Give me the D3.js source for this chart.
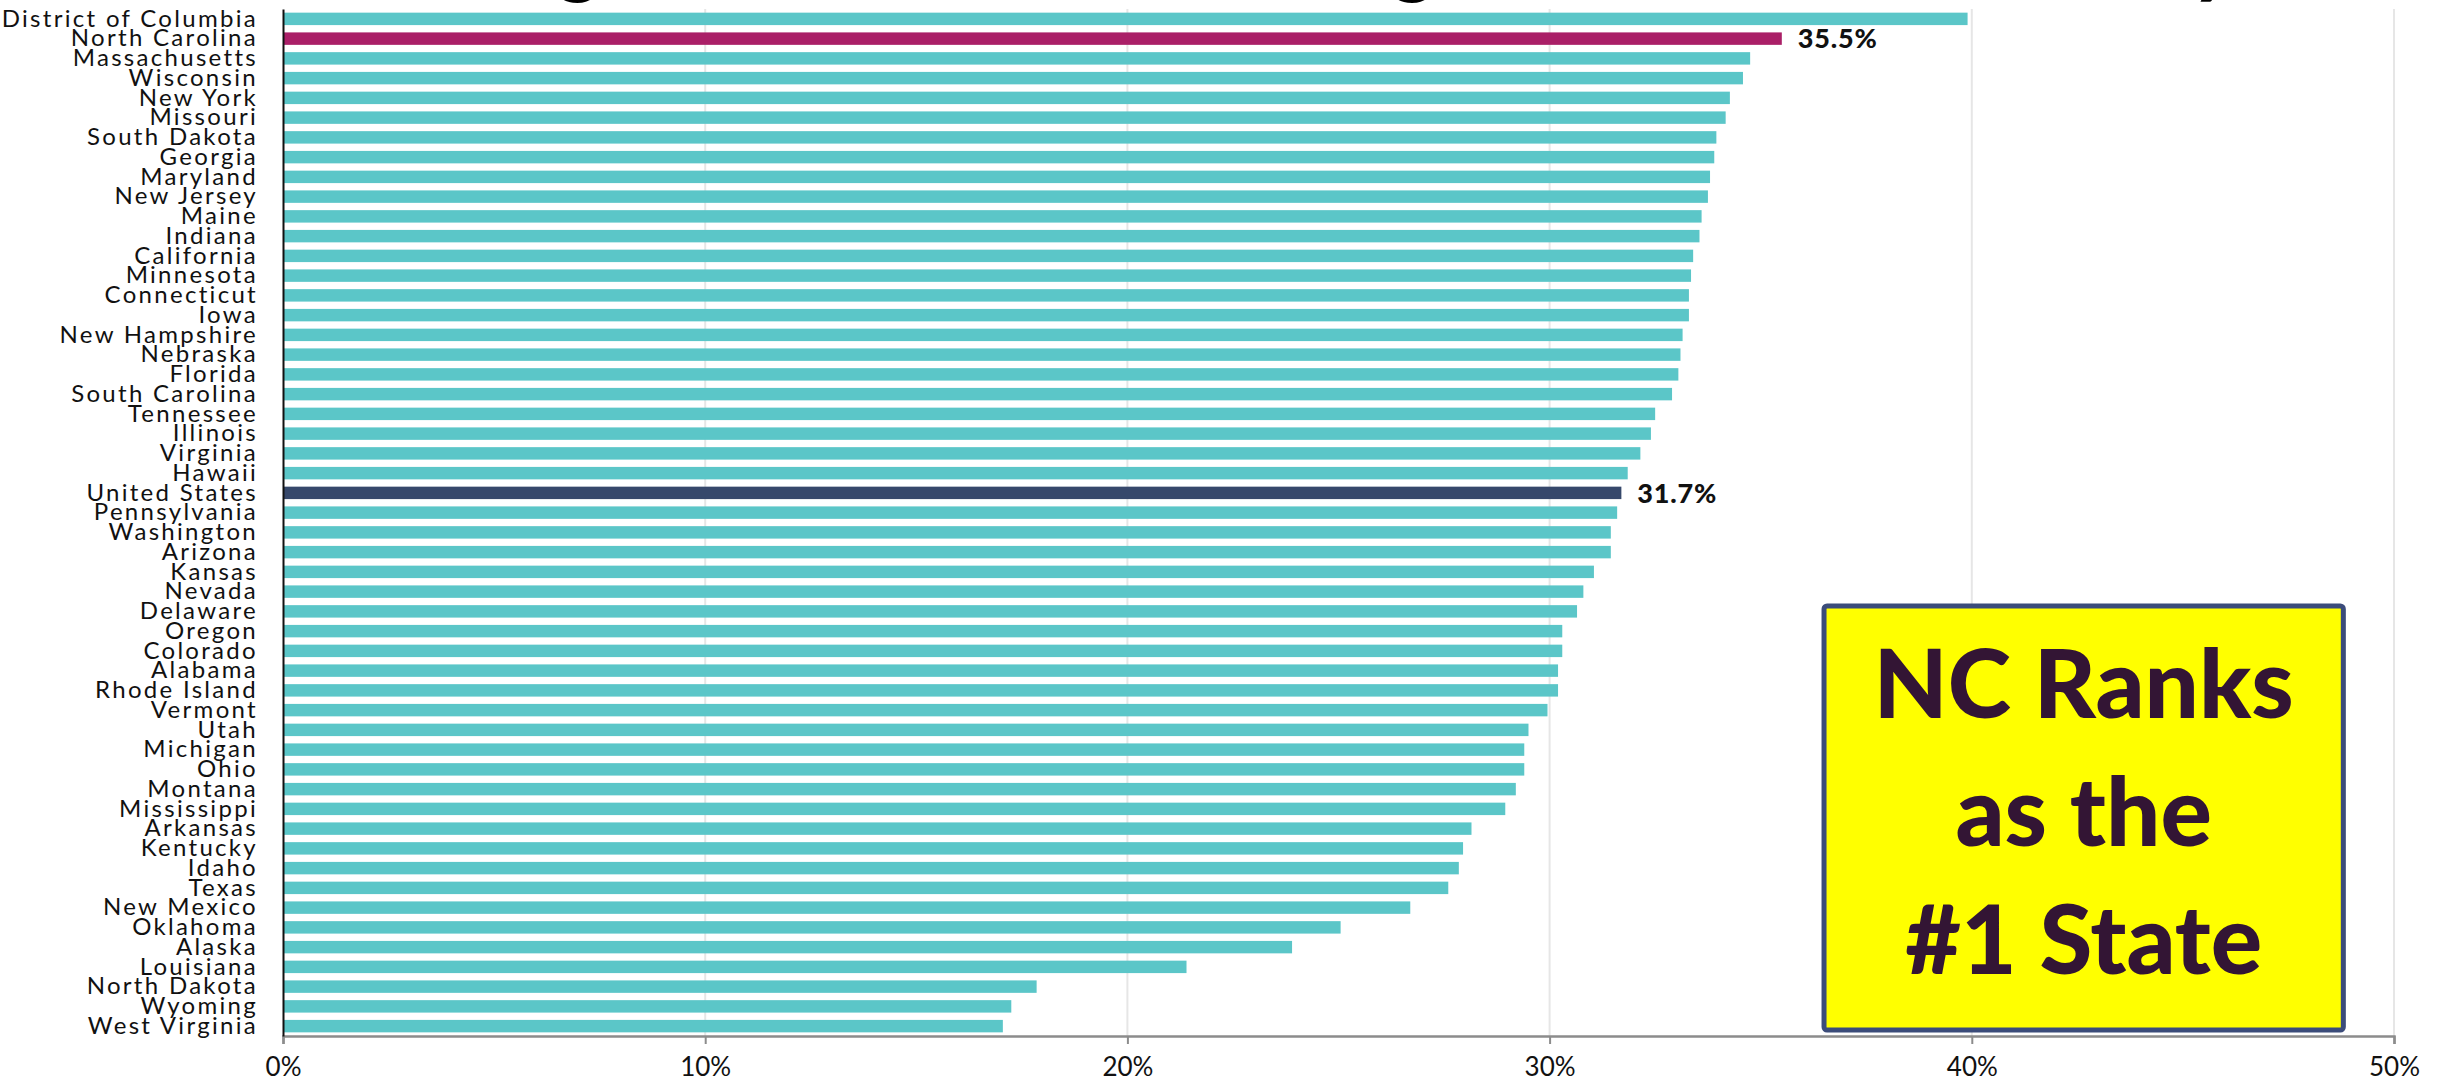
<!DOCTYPE html>
<html>
<head>
<meta charset="utf-8">
<script src="https://cdn.jsdelivr.net/npm/d3@7"></script>
<style>
  html, body { margin: 0; padding: 0; background: #fff; }
  svg { display: block; }
</style>
</head>
<body>
<svg id="chart" width="2453" height="1086"></svg>
<script>
// Rows, top to bottom
const states = [
  "District of Columbia", "North Carolina", "Massachusetts", "Wisconsin", "New York",
  "Missouri", "South Dakota", "Georgia", "Maryland", "New Jersey", "Maine", "Indiana",
  "California", "Minnesota", "Connecticut", "Iowa", "New Hampshire", "Nebraska",
  "Florida", "South Carolina", "Tennessee", "Illinois", "Virginia", "Hawaii",
  "United States", "Pennsylvania", "Washington", "Arizona", "Kansas", "Nevada",
  "Delaware", "Oregon", "Colorado", "Alabama", "Rhode Island", "Vermont", "Utah",
  "Michigan", "Ohio", "Montana", "Mississippi", "Arkansas", "Kentucky", "Idaho",
  "Texas", "New Mexico", "Oklahoma", "Alaska", "Louisiana", "North Dakota",
  "Wyoming", "West Virginia"
];

// Share (%) for each row, same order as states
const values = [
  39.9, 35.5, 34.75, 34.58, 34.27,
  34.17, 33.95, 33.9, 33.8, 33.75, 33.6, 33.55,
  33.4, 33.35, 33.3, 33.3, 33.15, 33.1,
  33.05, 32.9, 32.5, 32.4, 32.15, 31.85,
  31.7, 31.6, 31.45, 31.45, 31.05, 30.8,
  30.65, 30.3, 30.3, 30.2, 30.2, 29.95, 29.5,
  29.4, 29.4, 29.2, 28.95, 28.15, 27.95, 27.85,
  27.6, 26.7, 25.05, 23.9, 21.4, 17.85,
  17.25, 17.05
];

// Rows that carry a value label
const labelled = ["North Carolina", "United States"];

// Axis ticks (%)
const ticks = [0, 10, 20, 30, 40, 50];

// Call-out box lines
const calloutLines = ["NC Ranks", "as the", "#1 State"];

// Heading, split into runs
const headingParts = ["Percentage of Adults with a ", "Degree in the Tech ", "Industry"];

const data = states.map((s, i) => ({ state: s, value: values[i] }));

const W = 2453, H = 1086;
const margin = { top: 9, right: 59, bottom: 50, left: 283 };

const svg = d3.select("#chart");

const x = d3.scaleLinear().domain([0, 50]).range([margin.left, W - margin.right]);
const y = d3.scaleBand().domain(states).range([margin.top, H - margin.bottom])
  .paddingInner(0.37).paddingOuter(0.185);

const colorFor = s => s === "North Carolina" ? "#AA1F67" : s === "United States" ? "#36486B" : "#5BC6C8";

// Heading sits mostly above the top edge; only descenders reach into view
const heading = svg.append("text")
  .attr("y", -12)
  .attr("font-family", "Lato, sans-serif")
  .attr("font-weight", 900)
  .attr("font-size", 80)
  .attr("fill", "#000");
const runs = headingParts.map(p => heading.append("tspan").text(p));
// descender glyph in each run and the x where its centre goes
const anchors = [{ ch: "g", at: 578 }, { ch: "g", at: 1413 }, { ch: "y", at: 2213 }];
const node = heading.node();
let offset = 0;
runs.forEach((r, i) => {
  const idx = offset + headingParts[i].indexOf(anchors[i].ch);
  const ext = node.getExtentOfChar(idx);
  const shift = anchors[i].at - (ext.x + ext.width / 2);
  if (i === 0) r.attr("x", shift);
  else r.attr("dx", shift);
  offset += headingParts[i].length;
});

// Vertical gridlines
svg.append("g")
  .selectAll("line")
  .data(ticks.filter(t => t > 0))
  .join("line")
  .attr("x1", d => x(d)).attr("x2", d => x(d))
  .attr("y1", margin.top).attr("y2", H - margin.bottom)
  .attr("stroke", "#E6E6E6").attr("stroke-width", 2);

// Bars
svg.append("g")
  .selectAll("rect")
  .data(data)
  .join("rect")
  .attr("x", x(0))
  .attr("y", d => y(d.state))
  .attr("width", d => x(d.value) - x(0))
  .attr("height", y.bandwidth())
  .attr("fill", d => colorFor(d.state));

// Value labels
svg.append("g")
  .selectAll("text")
  .data(data.filter(d => labelled.includes(d.state)))
  .join("text")
  .attr("x", d => x(d.value) + 16)
  .attr("y", d => y(d.state) + y.bandwidth() / 2)
  .attr("dy", "0.36em")
  .attr("font-family", "Lato, sans-serif")
  .attr("font-weight", 900)
  .attr("font-size", 27)
  .attr("letter-spacing", 0.8)
  .attr("fill", "#111")
  .text(d => d.value.toFixed(1) + "%");

// Bottom axis
const xAxis = d3.axisBottom(x)
  .tickValues(ticks)
  .tickFormat(d => d + "%")
  .tickSize(8)
  .tickPadding(14);
const gx = svg.append("g")
  .attr("transform", `translate(0,${H - margin.bottom})`)
  .call(xAxis);
gx.select(".domain").attr("stroke", "#8C8C8C").attr("stroke-width", 2.5);
gx.selectAll(".tick line").attr("stroke", "#8C8C8C").attr("stroke-width", 2);
gx.selectAll(".tick text")
  .attr("font-family", "Lato, sans-serif")
  .attr("font-size", 26)
  .attr("fill", "#111");

// Left axis with state names
const yAxis = d3.axisLeft(y).tickSize(0).tickPadding(25);
const gy = svg.append("g")
  .attr("transform", `translate(${margin.left},0)`)
  .call(yAxis);
gy.select(".domain").attr("stroke", "#111").attr("stroke-width", 2);
gy.selectAll(".tick text")
  .attr("font-family", "Lato, sans-serif")
  .attr("font-size", 24)
  .attr("letter-spacing", 2.3)
  .attr("fill", "#111");

// Call-out box
const box = { x0: 36.5, x1: 48.8 };
const boxTop = 606, boxBottom = 1030;
const g = svg.append("g");
g.append("rect")
  .attr("x", x(box.x0))
  .attr("y", boxTop)
  .attr("width", x(box.x1) - x(box.x0))
  .attr("height", boxBottom - boxTop)
  .attr("rx", 3)
  .attr("fill", "#FFFF00")
  .attr("stroke", "#3B4C7A")
  .attr("stroke-width", 5);
const cx = (x(box.x0) + x(box.x1)) / 2;
g.selectAll("text")
  .data(calloutLines)
  .join("text")
  .attr("x", cx)
  .attr("y", (d, i) => 718 + i * 128)
  .attr("text-anchor", "middle")
  .attr("font-family", "Lato, sans-serif")
  .attr("font-weight", 900)
  .attr("font-size", 96)
  .attr("fill", "#331534")
  .text(d => d);
</script>
</body>
</html>
